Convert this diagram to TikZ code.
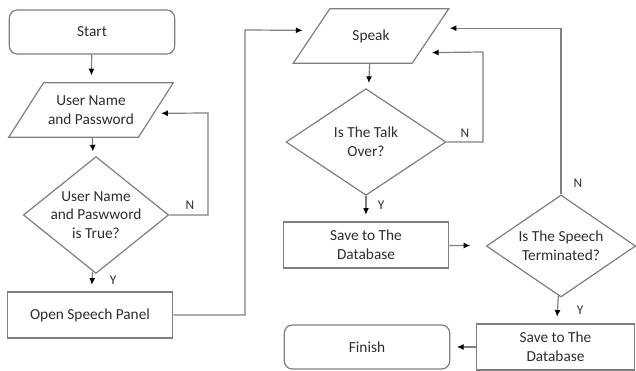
\documentclass[tikz,border=0pt]{standalone}
\usepackage{fontspec}
\setmainfont{Carlito}
\usetikzlibrary{shapes.geometric,arrows.meta,calc}
\definecolor{linegray}{HTML}{7F7F7F}
\definecolor{textgray}{HTML}{2E2E2E}

\begin{document}
\begin{tikzpicture}[x=0.75pt, y=-0.75pt,
    every node/.style={font=\fontsize{11.5}{14}\selectfont, text=textgray},
    termbox/.style={draw=linegray, line width=0.9pt, rounded corners=6pt, minimum width=124pt, minimum height=33pt},
    procbox/.style={draw=linegray, line width=0.9pt, minimum width=124pt, minimum height=34.5pt, align=center},
    iobox/.style={draw=linegray, line width=0.9pt, trapezium, trapezium left angle=47, trapezium right angle=133,
        trapezium stretches=true, minimum width=117pt, minimum height=41pt, align=center},
    decide/.style={draw=linegray, line width=0.9pt, diamond, inner sep=-4pt, align=center},
    flow/.style={draw=linegray, line width=0.9pt, -{Latex[length=5pt, width=4.5pt, color=black]}, shorten >=5pt},
    yn/.style={font=\fontsize{10}{12}\selectfont}]
    \useasboundingbox (0,0) rectangle (636,371);

    % left column: login
    \node[termbox] (start) at (92,32) {Start};
    \node[iobox] (user) at (91,110) {User Name\\and Password};
    \node[decide, minimum width=109pt, minimum height=78pt] (check) at (96,215) {User Name\\and Paswword\\is True?};
    \node[procbox] (open) at (90,315) {Open Speech Panel};

    % middle column: talking
    \node[iobox] (speak) at (371,36) {Speak};
    \node[decide, minimum width=120pt, minimum height=80pt] (talk) at (366,142) {Is The Talk\\Over?};
    \node[procbox] (save1) at (366,245) {Save to The\\Database};
    \node[termbox] (finish) at (367,347) {Finish};

    % right column
    \node[decide, minimum width=112pt, minimum height=76.5pt] (ended) at (561,246) {Is The Speech\\Terminated?};
    \node[procbox, minimum width=119pt] (save2) at (555.5,347) {Save to The\\Database};

    % answers
    \node[yn] (n1) at (190,205) {N};
    \node[yn] (y1) at (113,280) {Y};
    \node[yn] (n2) at (465,133) {N};
    \node[yn] (y2) at (381,205) {Y};
    \node[yn] (n3) at (578,183) {N};
    \node[yn] (y3) at (580,310) {Y};

    \coordinate (c1) at (208,113);
    \coordinate (c2) at (245,30);
    \coordinate (c3) at (483,52);

    \draw[flow] (start) -- (user);
    \draw[flow] (user) -- (check);
    \draw[flow] (check.east) -| (c1) -- ($(user.top right corner)!0.56!(user.bottom right corner)$);
    \draw[flow] (check) -- (open);
    \draw[flow, shorten >=9pt] (open.east) -| (c2) -- ($(speak.top left corner)!0.4!(speak.bottom left corner)$);
    \draw[flow] (speak) -- (talk);
    \draw[flow, shorten >=9pt] (talk.east) -| (c3) -- ($(speak.top right corner)!0.8!(speak.bottom right corner)$);
    \draw[flow] (talk) -- (save1);
    \draw[flow, shorten >=12pt] (save1) -- (ended);
    \draw[flow, shorten >=10pt] (ended.north) |- ($(speak.top right corner)!0.36!(speak.bottom right corner)$);
    \draw[flow] (ended) -- (save2);
    \draw[flow] (save2) -- (finish);
\end{tikzpicture}
\end{document}
